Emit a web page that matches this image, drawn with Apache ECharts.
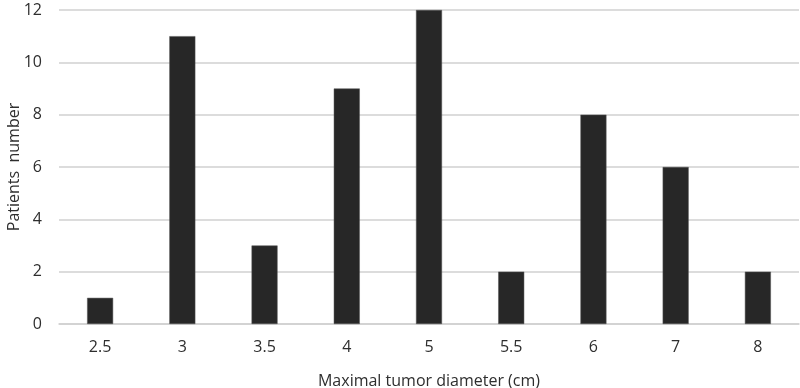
<!DOCTYPE html>
<html><head><meta charset="utf-8">
<script src="https://cdn.jsdelivr.net/npm/echarts@6/dist/echarts.min.js"></script>
<style>html,body{margin:0;padding:0;background:#fff}#c{width:800px;height:388px}</style>
</head><body><div id="c"></div>
<script>
const categories = ['2.5','3','3.5','4','5','5.5','6','7','8'];
const patients = [1, 11, 3, 9, 12, 2, 8, 6, 2];
const yTicks = [0, 2, 4, 6, 8, 10, 12];

const chart = echarts.init(document.getElementById('c'), null, {renderer: 'canvas'});
const font = 'Open Sans';
const txt = '#2e2e2e';
chart.setOption({
  animation: false,
  backgroundColor: '#fff',
  grid: {left: 59, right: 1, top: 10, bottom: 64, outerBoundsMode: 'none', containLabel: false},
  xAxis: {
    type: 'category', data: categories,
    name: 'Maximal tumor diameter (cm)', nameLocation: 'middle', nameGap: 49, nameMoveOverlap: false,
    nameTextStyle: {color: txt, fontSize: 16, fontFamily: font},
    axisLine: {lineStyle: {color: '#d0d0d0', width: 1.5}},
    axisTick: {show: false},
    axisLabel: {color: txt, fontSize: 16, fontFamily: font, margin: 15}
  },
  yAxis: {
    type: 'value', min: yTicks[0], max: yTicks[yTicks.length-1], interval: 2,
    name: 'Patients  number', nameLocation: 'middle', nameGap: 37, nameRotate: 90, nameMoveOverlap: false,
    nameTextStyle: {color: txt, fontSize: 16, fontFamily: font},
    axisLine: {show: false}, axisTick: {show: false},
    axisLabel: {color: txt, fontSize: 16, fontFamily: font, margin: 17},
    splitLine: {lineStyle: {color: '#d0d0d0', width: 1.5}}
  },
  series: [{
    type: 'bar', data: patients, barWidth: 26,
    itemStyle: {color: '#272727', borderColor: '#555', borderWidth: 0.5}
  }]
});
</script></body></html>
